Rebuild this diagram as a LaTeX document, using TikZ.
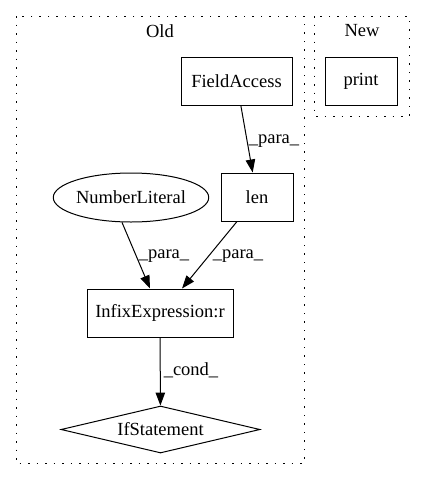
\documentclass[tikz,border=0pt]{standalone}
\usepackage{fontspec}
\setmainfont{Liberation Serif}
\usetikzlibrary{shapes.geometric,arrows.meta}
\begin{document}
\begin{tikzpicture}[x=1pt,y=-1pt,
  every node/.style={font=\fontsize{18.5}{22}\selectfont},
  cluster/.style={draw,line width=1pt,dash pattern=on 1.5pt off 7pt},
  opbox/.style={draw,line width=1pt,rectangle,inner sep=0pt},
  literal/.style={draw,line width=1pt,ellipse,inner sep=0pt,minimum width=132pt,minimum height=49pt},
  cond/.style={draw,line width=1pt,diamond,aspect=4.2,inner sep=0pt,minimum width=199pt,minimum height=47pt},
  edge/.style={line width=1pt,-{Triangle[length=13pt,width=9.5pt]}},
  elabel/.style={inner sep=0pt}]
\useasboundingbox (0,0) rectangle (424,480);

% clusters
\draw[cluster] (16,16) rectangle (304,463);
\node (oldlbl) at (160,31) {Old};
\draw[cluster] (314,16) rectangle (409,116);
\node (newlbl) at (362,31) {New};

% nodes
\node[opbox,minimum width=111pt,minimum height=48pt] (fa) at (236.5,81) {FieldAccess};
\node[opbox,minimum width=72pt,minimum height=48pt] (pr) at (361,81) {print};
\node[opbox,minimum width=72pt,minimum height=48pt] (len) at (257,197) {len};
\node[literal] (nl) at (131,197.5) {NumberLiteral};
\node[opbox,minimum width=146pt,minimum height=48pt] (inf) at (160,313) {InfixExpression:r};
\node[cond] (ifs) at (160.5,429.5) {IfStatement};

% connectors
\draw[edge] (fa) -- (len);
\draw[edge] (nl.250) -- ([xshift=-10pt]inf.north);
\draw[edge] ([xshift=-20pt]len.south) -- ([xshift=22pt]inf.north);
\draw[edge] (inf) -- (ifs);

% connector labels
\node[elabel] (l1) at (274,141) {\_para\_};
\node[elabel] (l2) at (164,256) {\_para\_};
\node[elabel] (l3) at (238,256) {\_para\_};
\node[elabel] (l4) at (191,370) {\_cond\_};
\end{tikzpicture}
\end{document}
